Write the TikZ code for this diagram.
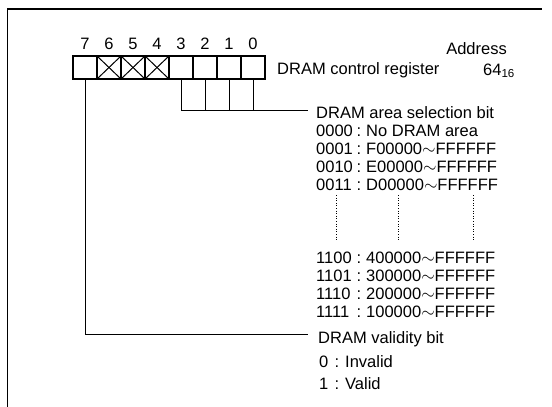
\documentclass[tikz,border=0pt]{standalone}
\usepackage{fontspec}
\setmainfont{Liberation Sans}
\usetikzlibrary{positioning}

\begin{document}
\begin{tikzpicture}[x=1pt,y=-1pt,
  every node/.style={font=\fontsize{16.5}{18}\selectfont,
    text height=11pt,text depth=3pt},
  cell/.style={draw,line width=1.2pt,minimum width=24pt,minimum height=23pt,
    inner sep=0pt},
  lead/.style={black,line width=0.8pt},
  txt/.style={anchor=base west,inner sep=0pt},
  mid/.style={anchor=base,inner sep=0pt},
  vdots/.style={black,line width=1pt,dash pattern=on 1pt off 1.6pt}]
  \useasboundingbox (0,0) rectangle (552,407);
  \draw[line width=1.4pt] (7.5,407) -- (7.5,9) -- (542,9);

  % register cells, bit 7 on the left; bits 6-4 are unused
  \foreach \b in {7,...,0}
  {
    \node[cell] (b\b) at ({85+24*(7-\b)},67.5) {};
    \node[mid] (n\b) at ({85+24*(7-\b)},49) {\b};
  }
  \foreach \b in {6,5,4}
    \draw[line width=1pt] (b\b.north west) -- (b\b.south east)
      (b\b.south west) -- (b\b.north east);

  \node[txt] (reg) at (277,74) {DRAM control register};
  \node[anchor=base east,inner sep=0pt] (addr) at (507,54) {Address};
  \node[txt] (hex) at (483,75) {64\textsubscript{16}};

  % area selection bits 3-0
  \node[txt] (sel) at (316,118) {DRAM area selection bit};
  \coordinate (selend) at (308,110);
  \draw[lead] (b3.south) |- (selend);
  \foreach \b in {2,1,0}
    \draw[lead] (b\b.south) -- (b\b.south |- selend);

  \foreach \code/\val [count=\i from 0] in {0000/No DRAM area,
    0001/F00000$\sim$FFFFFF,0010/E00000$\sim$FFFFFF,0011/D00000$\sim$FFFFFF}
  {
    \node[txt] (code\i) at (316,{136+18*\i}) {\code};
    \node[mid] (colon\i) at (359,{136+18*\i}) {:};
    \node[txt] (val\i) at (366,{136+18*\i}) {\val};
  }
  \foreach \x in {336,398,473}
    \draw[vdots] (\x,195) -- (\x,240);
  \foreach \code/\val [count=\i from 4] in {1100/400000$\sim$FFFFFF,
    1101/300000$\sim$FFFFFF,1110/200000$\sim$FFFFFF,1111/100000$\sim$FFFFFF}
  {
    \node[txt] (code\i) at (316,{263+18*(\i-4)}) {\code};
    \node[mid] (colon\i) at (359,{263+18*(\i-4)}) {:};
    \node[txt] (val\i) at (366,{263+18*(\i-4)}) {\val};
  }

  % validity bit 7
  \node[txt] (valid) at (318,343) {DRAM validity bit};
  \coordinate (validend) at (308,334);
  \draw[lead] (b7.south) |- (validend);
  \foreach \v/\lab [count=\i from 0] in {0/Invalid,1/Valid}
  {
    \node[txt] (v\i) at (319,{367+22*\i}) {\v};
    \node[mid] (vc\i) at (337,{367+22*\i}) {:};
    \node[txt] (vl\i) at (345,{367+22*\i}) {\lab};
  }
\end{tikzpicture}
\end{document}
